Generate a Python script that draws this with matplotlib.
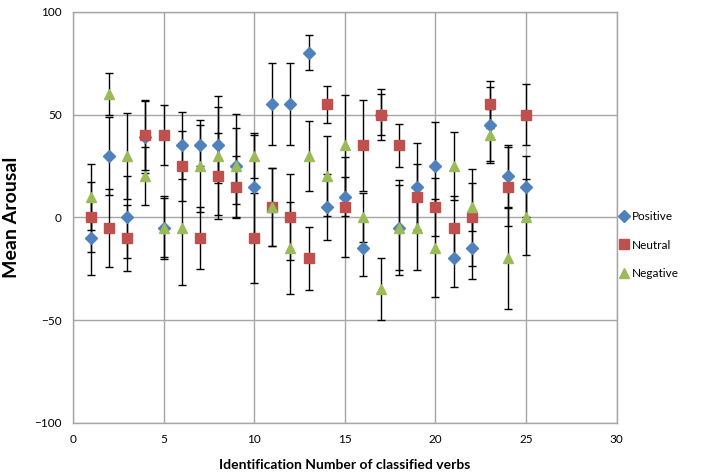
import matplotlib
matplotlib.use("Agg")
import matplotlib.pyplot as plt

plt.rcParams["font.family"] = ["Lato", "DejaVu Sans"]

ids = list(range(1, 26))

positive = [-10, 30, 0, 39, -5, 35, 35, 35, 25, 15, 55, 55, 80, 5, 10, -15, 50, -5, 15, 25, -20, -15, 45, 20, 15]
positive_err = [18, 19, 20, 17.5, 15.5, 16.5, 10, 18.5, 25.5, 25, 20, 20, 8.5, 16, 9.5, 13.5, 10, 23, 21, 21.5, 14, 15, 18.5, 15, 15]

neutral = [0, -5, -10, 40, 40, 25, -10, 20, 15, -10, 5, 0, -20, 55, 5, 35, 50, 35, 10, 5, -5, 0, 55, 15, 50]
neutral_err = [17, 19, 16, 17, 14.5, 17, 15, 21, 15, 22, 19, 21, 15.5, 9, 24.5, 22, 12.5, 10.5, 16, 14, 15.5, 23.5, 11.5, 19, 15]

negative = [10, 60, 30, 20, -5, -5, 25, 30, 25, 30, 5, -15, 30, 20, 35, 0, -35, -5, -5, -15, 25, 5, 40, -20, 0]
negative_err = [16, 10, 21, 14, 14.5, 28, 22.5, 29, 18.5, 11, 19, 22.5, 17, 19.5, 24.5, 12, 15, 20.5, 20.5, 24, 16.5, 11.5, 12.5, 24.5, 18.5]

BLUE = "#4F81BD"
RED = "#C0504D"
GREEN = "#9BBB59"
GRID = "#A6A6A6"

fig = plt.figure(figsize=(7.08, 4.74), dpi=100, facecolor="white")
ax = fig.add_axes([0.103, 0.108, 0.768, 0.867])

series = [
    ("Positive", positive, positive_err, BLUE, "D", 5.8),
    ("Neutral", neutral, neutral_err, RED, "s", 7.2),
    ("Negative", negative, negative_err, GREEN, "^", 7.8),
]

handles = []
for name, vals, errs, color, marker, ms in series:
    ax.errorbar(ids, vals, yerr=errs, fmt="none", ecolor="black",
                elinewidth=1.0, capsize=3, capthick=1.0, zorder=3)
    h, = ax.plot(ids, vals, linestyle="none", marker=marker, markersize=ms,
                 color=color, markeredgecolor=color, label=name, zorder=4)
    handles.append(h)

ax.set_xlim(0, 30)
ax.set_ylim(-100, 100)
ax.set_xticks(range(0, 31, 5))
ax.set_yticks(range(-100, 101, 50))
ax.grid(True, color=GRID, linewidth=1.0)
ax.set_axisbelow(True)
for side in ax.spines.values():
    side.set_color(GRID)
    side.set_linewidth(1.0)
ax.tick_params(length=0, labelsize=8.5, pad=8, colors="black")

ax.set_ylabel("Mean Arousal", fontsize=14, fontweight="bold", labelpad=10)
ax.set_xlabel("Identification Number of classified verbs", fontsize=10,
              fontweight="bold", labelpad=10)

fig.legend(handles=handles, loc="center left", bbox_to_anchor=(0.868, 0.483),
           frameon=False, fontsize=8.5, handlelength=0.8, handletextpad=0.3,
           labelspacing=1.45, borderaxespad=0)

fig.savefig("out.png", dpi=100, facecolor="white")
